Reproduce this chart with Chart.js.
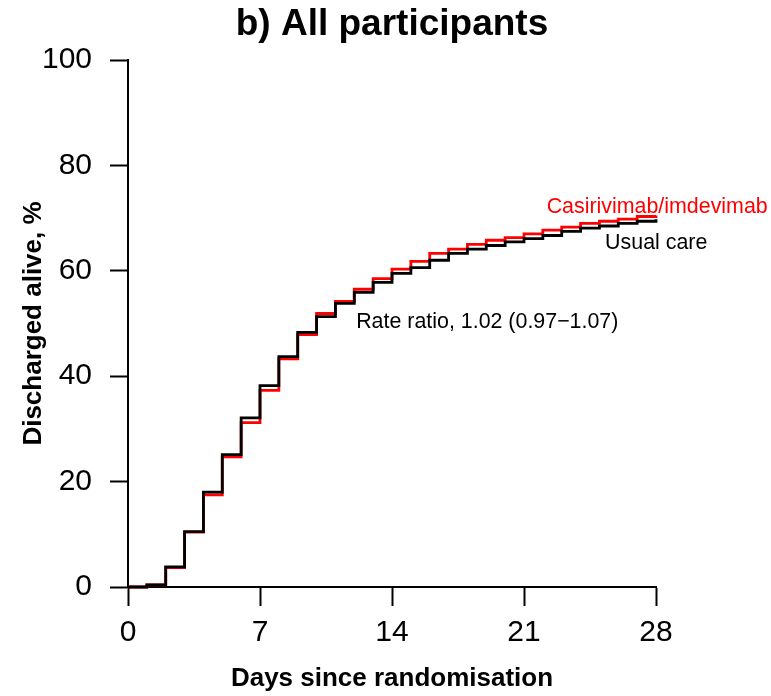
<!DOCTYPE html>
<html>
<head>
<meta charset="utf-8">
<script src="https://cdn.jsdelivr.net/npm/chart.js@4"></script>
<style>
  html, body { margin: 0; padding: 0; background: #fff; }
</style>
</head>
<body>
<canvas id="myChart" width="771" height="696"></canvas>
<script>
// days since randomisation and % discharged alive
var days = [0, 1, 2, 3, 4, 5, 6, 7, 8, 9, 10, 11, 12, 13, 14, 15, 16, 17, 18, 19, 20, 21, 22, 23, 24, 25, 26, 27, 28];
var usualCare = [0, 0.4, 3.8, 10.5, 18.0, 25.1, 32.1, 38.2, 43.7, 48.3, 51.3, 53.8, 55.9, 57.8, 59.5, 60.6, 62.0, 63.3, 64.1, 64.8, 65.5, 66.1, 66.7, 67.5, 68.1, 68.5, 69.0, 69.4, 69.8];
var casirivimab = [0, 0.4, 3.7, 10.4, 17.5, 24.7, 31.2, 37.3, 43.3, 47.9, 51.9, 54.2, 56.5, 58.5, 60.3, 61.8, 63.3, 64.1, 65.0, 65.8, 66.3, 67.0, 67.7, 68.3, 69.0, 69.4, 69.8, 70.3, 70.5];
var xTicks = [0, 7, 14, 21, 28];
var yTicks = [0, 20, 40, 60, 80, 100];

Chart.defaults.font.family = '"Liberation Sans", Arial, sans-serif';
Chart.defaults.color = '#000';

function toPoints(vals) {
    return days.map(function (d, i) { return { x: d, y: vals[i] }; });
}

// title + text labels inside the plot
var textPlugin = {
    id: 'texts',
    afterDraw: function (chart) {
        var ctx = chart.ctx;
        var xs = chart.scales.x, ys = chart.scales.y;
        var ca = chart.chartArea;
        ctx.save();
        ctx.fillStyle = '#000';
        ctx.font = 'bold 37px "Liberation Sans", Arial, sans-serif';
        ctx.textAlign = 'center';
        ctx.textBaseline = 'middle';
        ctx.fillText('b) All participants', (ca.left + ca.right) / 2, 25);

        var notes = [
            { text: 'Casirivimab/imdevimab', x: 22.2, y: 70.9, color: '#ff0000' },
            { text: 'Usual care', x: 25.3, y: 64.1, color: '#000000' },
            { text: 'Rate ratio, 1.02 (0.97\u22121.07)', x: 12.1, y: 49.1, color: '#000000' }
        ];
        ctx.font = '21.4px "Liberation Sans", Arial, sans-serif';
        ctx.textAlign = 'left';
        ctx.textBaseline = 'alphabetic';
        notes.forEach(function (n) {
            ctx.fillStyle = n.color;
            ctx.fillText(n.text, xs.getPixelForValue(n.x), ys.getPixelForValue(n.y));
        });
        ctx.restore();
    }
};

var ctx1 = document.getElementById('myChart');
var myChart1 = new Chart(ctx1, {
    type: 'line',
    data: {
        datasets: [{
            label: 'Usual care',
            data: toPoints(usualCare),
            borderColor: '#000000',
            borderWidth: 2.8,
            stepped: true,
            pointRadius: 0,
            fill: false,
            clip: false
        }, {
            label: 'Casirivimab/imdevimab',
            data: toPoints(casirivimab),
            borderColor: '#ff0000',
            borderWidth: 2.8,
            stepped: true,
            pointRadius: 0,
            fill: false,
            clip: false
        }]
    },
    options: {
        responsive: false,
        animation: false,
        devicePixelRatio: 1,
        layout: { padding: { top: 60, right: 115, left: 0, bottom: 0 } },
        plugins: {
            legend: { display: false },
            tooltip: { enabled: false }
        },
        scales: {
            x: {
                type: 'linear',
                min: 0,
                max: 28,
                afterBuildTicks: function (s) { s.ticks = xTicks.map(function (v) { return { value: v }; }); },
                afterFit: function (s) { s.height = 109; },
                ticks: { font: { size: 30 }, color: '#000', padding: 9, maxRotation: 0 },
                grid: { drawOnChartArea: false, drawTicks: true, tickLength: 19, tickWidth: 2, tickColor: '#000' },
                border: { display: true, color: '#000', width: 2 },
                title: {
                    display: true,
                    text: 'Days since randomisation',
                    color: '#000',
                    font: { size: 26, weight: 'bold' },
                    padding: { top: 0, bottom: 2 }
                }
            },
            y: {
                min: 0,
                max: 100,
                afterBuildTicks: function (s) { s.ticks = yTicks.map(function (v) { return { value: v }; }); },
                afterFit: function (s) { s.width = 128; },
                ticks: { font: { size: 30 }, color: '#000', padding: 18 },
                grid: { drawOnChartArea: false, drawTicks: true, tickLength: 18, tickWidth: 2, tickColor: '#000' },
                border: { display: true, color: '#000', width: 2 },
                title: {
                    display: true,
                    text: 'Discharged alive, %',
                    color: '#000',
                    font: { size: 26, weight: 'bold' },
                    padding: { top: 18, bottom: 0 }
                }
            }
        }
    },
    plugins: [textPlugin]
});
</script>
</body>
</html>
